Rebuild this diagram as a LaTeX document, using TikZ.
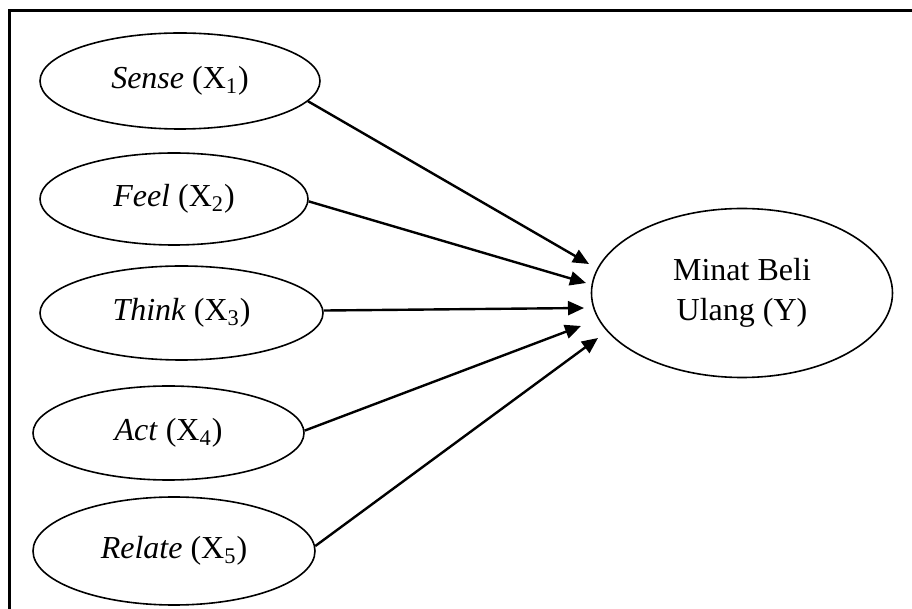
\documentclass[tikz,border=0pt]{standalone}
\usepackage{fontspec}
\setmainfont{Liberation Serif}
\usetikzlibrary{shapes.geometric,arrows.meta}
\tikzset{
  var/.style={ellipse, draw, line width=0.8pt, inner sep=0pt, align=center,
    font=\fontsize{16}{20}\selectfont},
  link/.style={line width=1.2pt, -{Triangle[length=8pt,width=7pt]}},
  frameline/.style={line width=1.2pt}
}
\begin{document}
\begin{tikzpicture}[x=0.5pt,y=-0.5pt]
\useasboundingbox (0,0) rectangle (912,609);
\coordinate (fa) at (912,10.5);
\coordinate (fb) at (9.5,10.5);
\coordinate (fc) at (9.5,609);
\draw[frameline] (fa) -- (fb) -- (fc);

\node[var, minimum width=140pt, minimum height=48pt] (x1) at (180,81) {\textit{Sense} (X\textsubscript{1})};
\node[var, minimum width=134pt, minimum height=46pt] (x2) at (174,199) {\textit{Feel} (X\textsubscript{2})};
\node[var, minimum width=141.5pt, minimum height=47pt] (x3) at (181.5,313) {\textit{Think} (X\textsubscript{3})};
\node[var, minimum width=135.5pt, minimum height=47pt] (x4) at (168.5,433) {\textit{Act} (X\textsubscript{4})};
\node[var, minimum width=141pt, minimum height=54pt] (x5) at (174,551) {\textit{Relate} (X\textsubscript{5})};
\node[var, minimum width=150.5pt, minimum height=84.5pt] (y) at (742,293) {Minat Beli\\Ulang (Y)};

\coordinate (t1) at (589,264);
\coordinate (t2) at (586,283);
\coordinate (t3) at (584,308);
\coordinate (t4) at (581,326);
\coordinate (t5) at (598,338);

\draw[link] (x1.-9.4) -- (t1);
\draw[link] (x2.-1.7) -- (t2);
\draw[link] (x3.1) -- (t3);
\draw[link] (x4.1) -- (t4);
\draw[link] (x5.2.4) -- (t5);
\end{tikzpicture}
\end{document}
